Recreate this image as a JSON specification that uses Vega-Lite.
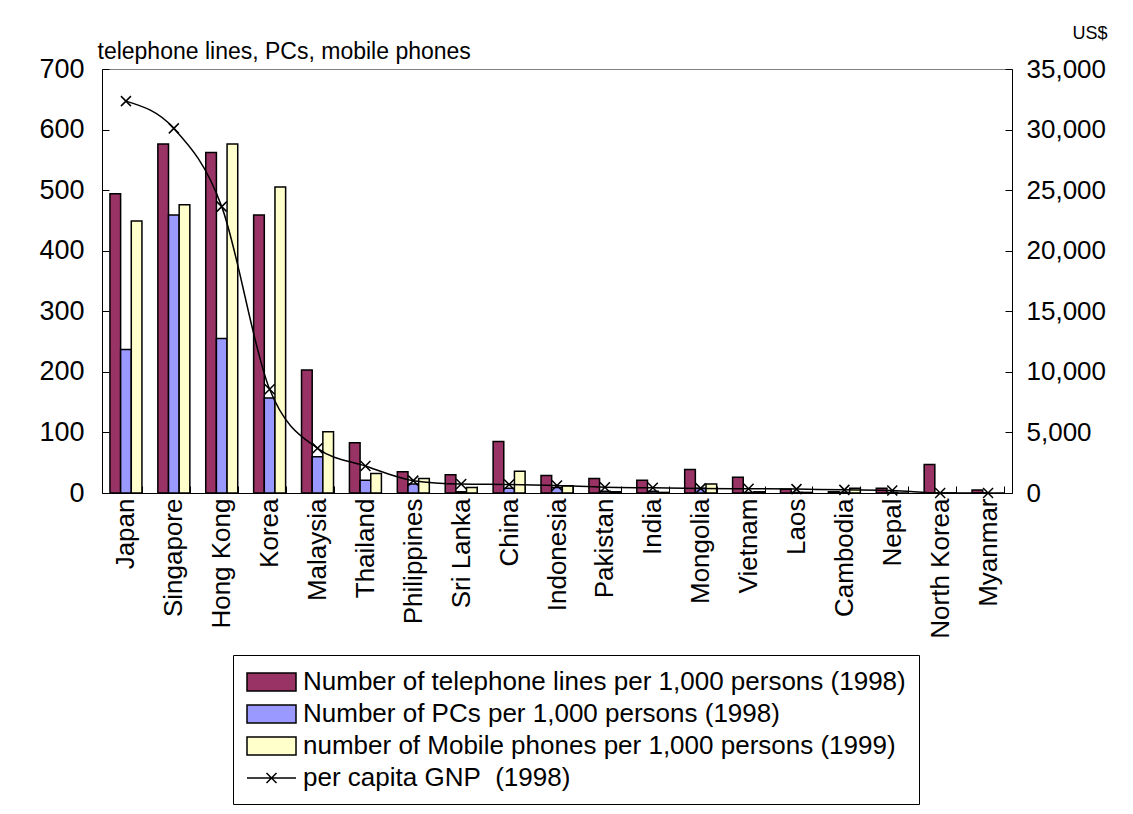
{
  "$schema": "https://vega.github.io/schema/vega-lite/v6.json",
  "autosize": {"type": "none"},
  "width": 910,
  "height": 424,
  "padding": {"left": 102, "top": 69, "right": 121, "bottom": 321},
  "background": "white",
  "config": {
    "font": "Liberation Sans",
    "view": {"stroke": "#808080", "strokeWidth": 1},
    "axis": {
      "domainColor": "black",
      "domainWidth": 1,
      "tickColor": "black",
      "tickWidth": 1,
      "labelColor": "black",
      "titleColor": "black",
      "labelFont": "Liberation Sans",
      "titleFont": "Liberation Sans",
      "grid": false
    }
  },
  "datasets": {
    "bars": [
      {"country": "Japan", "series": "Number of telephone lines per 1,000 persons (1998)", "value": 494},
      {"country": "Japan", "series": "Number of PCs per 1,000 persons (1998)", "value": 237},
      {"country": "Japan", "series": "number of Mobile phones per 1,000 persons (1999)", "value": 449},
      {"country": "Singapore", "series": "Number of telephone lines per 1,000 persons (1998)", "value": 576},
      {"country": "Singapore", "series": "Number of PCs per 1,000 persons (1998)", "value": 459},
      {"country": "Singapore", "series": "number of Mobile phones per 1,000 persons (1999)", "value": 476},
      {"country": "Hong Kong", "series": "Number of telephone lines per 1,000 persons (1998)", "value": 562},
      {"country": "Hong Kong", "series": "Number of PCs per 1,000 persons (1998)", "value": 255},
      {"country": "Hong Kong", "series": "number of Mobile phones per 1,000 persons (1999)", "value": 576},
      {"country": "Korea", "series": "Number of telephone lines per 1,000 persons (1998)", "value": 459},
      {"country": "Korea", "series": "Number of PCs per 1,000 persons (1998)", "value": 157},
      {"country": "Korea", "series": "number of Mobile phones per 1,000 persons (1999)", "value": 505},
      {"country": "Malaysia", "series": "Number of telephone lines per 1,000 persons (1998)", "value": 203},
      {"country": "Malaysia", "series": "Number of PCs per 1,000 persons (1998)", "value": 60},
      {"country": "Malaysia", "series": "number of Mobile phones per 1,000 persons (1999)", "value": 101},
      {"country": "Thailand", "series": "Number of telephone lines per 1,000 persons (1998)", "value": 83},
      {"country": "Thailand", "series": "Number of PCs per 1,000 persons (1998)", "value": 21},
      {"country": "Thailand", "series": "number of Mobile phones per 1,000 persons (1999)", "value": 32},
      {"country": "Philippines", "series": "Number of telephone lines per 1,000 persons (1998)", "value": 35},
      {"country": "Philippines", "series": "Number of PCs per 1,000 persons (1998)", "value": 15},
      {"country": "Philippines", "series": "number of Mobile phones per 1,000 persons (1999)", "value": 24},
      {"country": "Sri Lanka", "series": "Number of telephone lines per 1,000 persons (1998)", "value": 30},
      {"country": "Sri Lanka", "series": "Number of PCs per 1,000 persons (1998)", "value": 2},
      {"country": "Sri Lanka", "series": "number of Mobile phones per 1,000 persons (1999)", "value": 9},
      {"country": "China", "series": "Number of telephone lines per 1,000 persons (1998)", "value": 85},
      {"country": "China", "series": "Number of PCs per 1,000 persons (1998)", "value": 8},
      {"country": "China", "series": "number of Mobile phones per 1,000 persons (1999)", "value": 36},
      {"country": "Indonesia", "series": "Number of telephone lines per 1,000 persons (1998)", "value": 29},
      {"country": "Indonesia", "series": "Number of PCs per 1,000 persons (1998)", "value": 9},
      {"country": "Indonesia", "series": "number of Mobile phones per 1,000 persons (1999)", "value": 12},
      {"country": "Pakistan", "series": "Number of telephone lines per 1,000 persons (1998)", "value": 24},
      {"country": "Pakistan", "series": "Number of PCs per 1,000 persons (1998)", "value": 3},
      {"country": "Pakistan", "series": "number of Mobile phones per 1,000 persons (1999)", "value": 2},
      {"country": "India", "series": "Number of telephone lines per 1,000 persons (1998)", "value": 21},
      {"country": "India", "series": "Number of PCs per 1,000 persons (1998)", "value": 3},
      {"country": "India", "series": "number of Mobile phones per 1,000 persons (1999)", "value": 1},
      {"country": "Mongolia", "series": "Number of telephone lines per 1,000 persons (1998)", "value": 39},
      {"country": "Mongolia", "series": "Number of PCs per 1,000 persons (1998)", "value": 8},
      {"country": "Mongolia", "series": "number of Mobile phones per 1,000 persons (1999)", "value": 15},
      {"country": "Vietnam", "series": "Number of telephone lines per 1,000 persons (1998)", "value": 26},
      {"country": "Vietnam", "series": "Number of PCs per 1,000 persons (1998)", "value": 1},
      {"country": "Vietnam", "series": "number of Mobile phones per 1,000 persons (1999)", "value": 2},
      {"country": "Laos", "series": "Number of telephone lines per 1,000 persons (1998)", "value": 6},
      {"country": "Laos", "series": "Number of PCs per 1,000 persons (1998)", "value": 1},
      {"country": "Laos", "series": "number of Mobile phones per 1,000 persons (1999)", "value": 1},
      {"country": "Cambodia", "series": "Number of telephone lines per 1,000 persons (1998)", "value": 2},
      {"country": "Cambodia", "series": "Number of PCs per 1,000 persons (1998)", "value": 1},
      {"country": "Cambodia", "series": "number of Mobile phones per 1,000 persons (1999)", "value": 8},
      {"country": "Nepal", "series": "Number of telephone lines per 1,000 persons (1998)", "value": 8},
      {"country": "Nepal", "series": "Number of PCs per 1,000 persons (1998)", "value": 1},
      {"country": "Nepal", "series": "number of Mobile phones per 1,000 persons (1999)", "value": 0},
      {"country": "North Korea", "series": "Number of telephone lines per 1,000 persons (1998)", "value": 47},
      {"country": "North Korea", "series": "Number of PCs per 1,000 persons (1998)", "value": 0},
      {"country": "North Korea", "series": "number of Mobile phones per 1,000 persons (1999)", "value": 0},
      {"country": "Myanmar", "series": "Number of telephone lines per 1,000 persons (1998)", "value": 5},
      {"country": "Myanmar", "series": "Number of PCs per 1,000 persons (1998)", "value": 0},
      {"country": "Myanmar", "series": "number of Mobile phones per 1,000 persons (1999)", "value": 0}
    ],
    "gnp": [
      {"country": "Japan", "gnp": 32350},
      {"country": "Singapore", "gnp": 30100},
      {"country": "Hong Kong", "gnp": 23640},
      {"country": "Korea", "gnp": 8560},
      {"country": "Malaysia", "gnp": 3690},
      {"country": "Thailand", "gnp": 2230},
      {"country": "Philippines", "gnp": 1020},
      {"country": "Sri Lanka", "gnp": 740},
      {"country": "China", "gnp": 700},
      {"country": "Indonesia", "gnp": 620},
      {"country": "Pakistan", "gnp": 480},
      {"country": "India", "gnp": 430},
      {"country": "Mongolia", "gnp": 380},
      {"country": "Vietnam", "gnp": 350},
      {"country": "Laos", "gnp": 320},
      {"country": "Cambodia", "gnp": 260},
      {"country": "Nepal", "gnp": 210},
      {"country": "North Korea", "gnp": 0},
      {"country": "Myanmar", "gnp": 0}
    ]
  },
  "layer": [
    {
      "data": {"name": "bars"},
      "mark": {"type": "bar", "stroke": "black", "strokeWidth": 1.5},
      "encoding": {
        "x": {
          "field": "country",
          "type": "nominal",
          "scale": {
            "domain": ["Japan", "Singapore", "Hong Kong", "Korea", "Malaysia", "Thailand", "Philippines", "Sri Lanka", "China", "Indonesia", "Pakistan", "India", "Mongolia", "Vietnam", "Laos", "Cambodia", "Nepal", "North Korea", "Myanmar"],
            "paddingInner": 0.332,
            "paddingOuter": 0.166
          },
          "axis": {
            "title": null,
            "labelAngle": -90,
            "labelFontSize": 26,
            "tickBand": "extent",
            "tickSize": -7,
            "labelPadding": 12
          }
        },
        "xOffset": {
          "field": "series",
          "type": "nominal",
          "scale": {
            "domain": ["Number of telephone lines per 1,000 persons (1998)", "Number of PCs per 1,000 persons (1998)", "number of Mobile phones per 1,000 persons (1999)"],
            "paddingInner": 0,
            "paddingOuter": 0
          }
        },
        "y": {
          "field": "value",
          "type": "quantitative",
          "scale": {"domain": [0, 700], "nice": false},
          "axis": {
            "title": "telephone lines, PCs, mobile phones",
            "titleAngle": 0,
            "titleAlign": "left",
            "titleBaseline": "alphabetic",
            "titleX": -5,
            "titleY": -11,
            "titleFontSize": 23,
            "titleFontWeight": "normal",
            "values": [0, 100, 200, 300, 400, 500, 600, 700],
            "labelFontSize": 27,
            "tickSize": -7,
            "labelPadding": 25
          }
        },
        "fill": {
          "field": "series",
          "type": "nominal",
          "scale": {
            "domain": ["Number of telephone lines per 1,000 persons (1998)", "Number of PCs per 1,000 persons (1998)", "number of Mobile phones per 1,000 persons (1999)", "per capita GNP\u00a0 (1998)"],
            "range": ["#993366", "#9999FF", "#FFFFCC", "#FFFFFF"]
          },
          "legend": {
            "title": null,
            "orient": "none",
            "legendX": 131,
            "legendY": 586,
            "direction": "vertical",
            "labelFontSize": 26,
            "labelFont": "Liberation Sans",
            "labelColor": "black",
            "labelLimit": 900,
            "symbolSize": 676,
            "labelOffset": 29,
            "rowPadding": 5,
            "padding": 13,
            "strokeColor": "black",
            "symbolStrokeColor": "black",
            "symbolStrokeWidth": 1.5,
            "symbolOpacity": 1,
            "encode": {
              "symbols": {
                "update": {
                  "shape": {"signal": "slice(datum.value, 0, 3) == 'per' ? 'M-1,0H2.77M0.5,-0.38L1.27,0.38M0.5,0.38L1.27,-0.38' : 'M-1,-0.69H2.77V0.69H-1Z'"}
                }
              }
            }
          }
        }
      }
    },
    {
      "data": {"name": "gnp"},
      "encoding": {
        "x": {"field": "country", "type": "nominal"},
        "y": {
          "field": "gnp",
          "type": "quantitative",
          "scale": {"domain": [0, 35000], "nice": false},
          "axis": {
            "orient": "right",
            "title": "US$",
            "titleAngle": 0,
            "titleAlign": "right",
            "titleBaseline": "alphabetic",
            "titleX": 95,
            "titleY": -31,
            "titleFontSize": 18,
            "titleFontWeight": "normal",
            "values": [0, 5000, 10000, 15000, 20000, 25000, 30000, 35000],
            "format": ",.0f",
            "labelFontSize": 26,
            "tickSize": -7,
            "labelPadding": 21
          }
        }
      },
      "layer": [
        {"mark": {"type": "line", "color": "black", "strokeWidth": 1.5, "interpolate": "monotone"}},
        {"mark": {"type": "point", "shape": "M-1,-1L1,1M-1,1L1,-1", "filled": false, "stroke": "black", "strokeWidth": 1.5, "size": 100, "opacity": 1}}
      ]
    }
  ],
  "resolve": {"scale": {"y": "independent"}}
}
